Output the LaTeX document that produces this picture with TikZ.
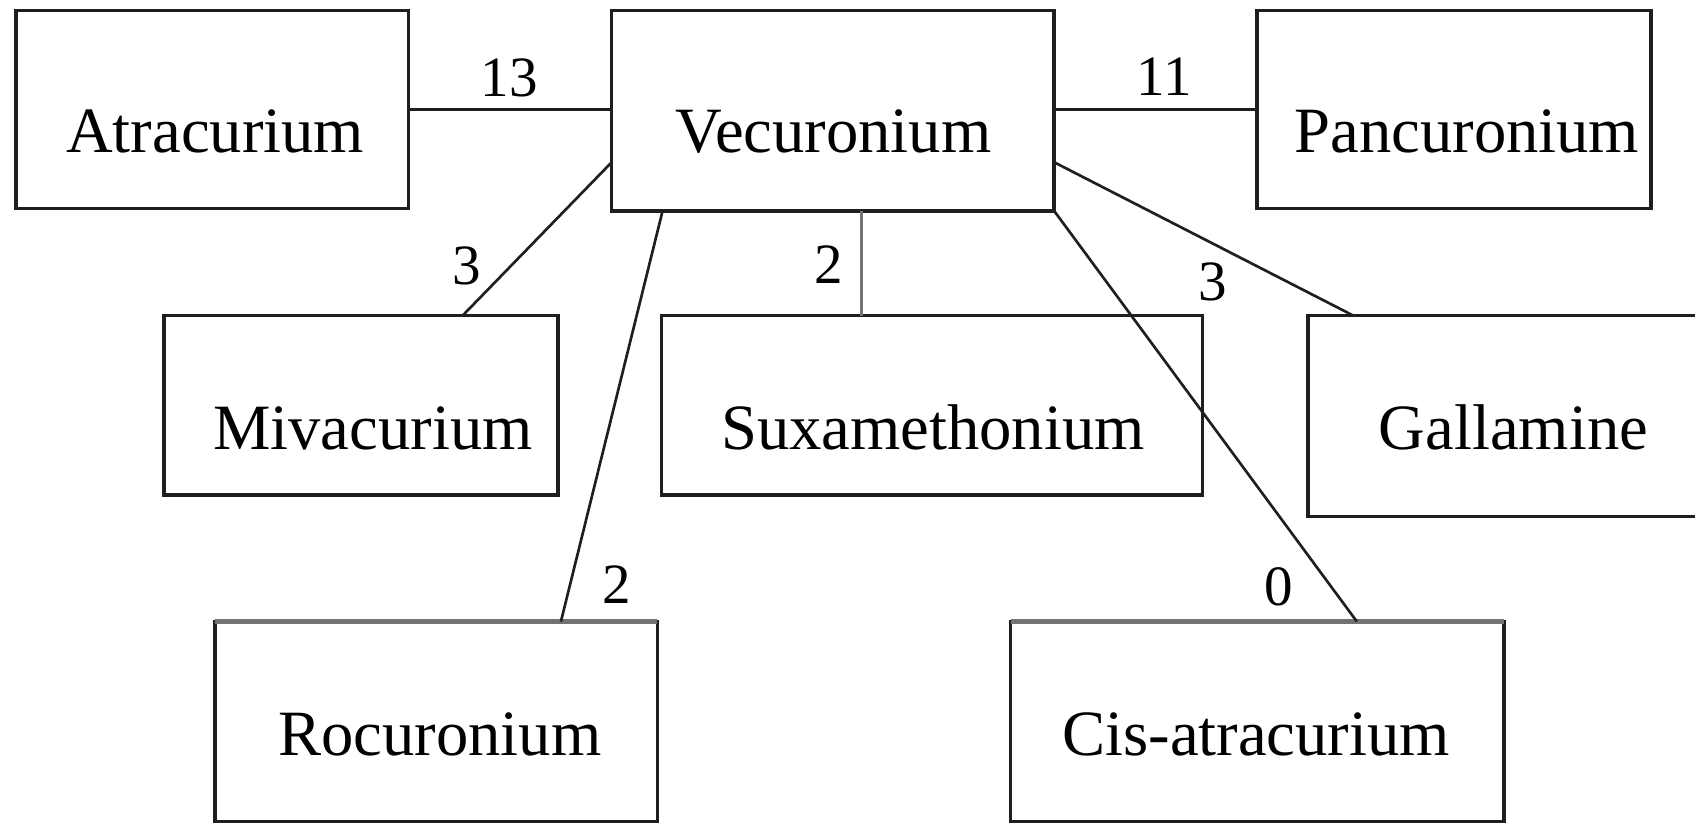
\documentclass[tikz,border=0pt]{standalone}
\usepackage{fontspec}
\setmainfont{Liberation Serif}
\usetikzlibrary{calc}
\begin{document}
\begin{tikzpicture}[x=0.01cm,y=-0.01cm,
  drugbox/.style={draw=black!88,line width=0.9pt,inner sep=0pt,outer sep=0pt},
  drugtext/.style={anchor=base,inner sep=0pt,font=\fontsize{17}{20}\selectfont},
  numlabel/.style={anchor=base,inner sep=0pt,font=\fontsize{15}{18}\selectfont},
  linkline/.style={draw=black!88,line width=0.7pt},
  graylink/.style={draw=black!55,line width=0.8pt},
  graytop/.style={draw=black!55,line width=1.5pt}]
\useasboundingbox (0,0) rectangle (1568,762);
\clip (0,0) rectangle (1568,762);
% boxes
\node[drugbox,minimum width=3.63cm,minimum height=1.83cm] (atr) at (196.5,101.5) {};
\node[drugbox,minimum width=4.09cm,minimum height=1.85cm] (vec) at (770.5,102.5) {};
\node[drugbox,minimum width=3.64cm,minimum height=1.83cm] (pan) at (1345,101.5) {};
\node[drugbox,minimum width=3.64cm,minimum height=1.66cm] (miv) at (334,375) {};
\node[drugbox,minimum width=5.00cm,minimum height=1.66cm] (sux) at (862,375) {};
\node[drugbox,minimum width=3.90cm,minimum height=1.86cm] (gal) at (1405,385) {};
\node[drugbox,minimum width=4.09cm,minimum height=1.85cm] (roc) at (403.5,667.5) {};
\node[drugbox,minimum width=4.56cm,minimum height=1.85cm] (cis) at (1163,667.5) {};
\draw[graytop] (roc.north west) -- (roc.north east);
\draw[graytop] (cis.north west) -- (cis.north east);
% texts
\node[drugtext] (tatr) at (199,141) {Atracurium};
\node[drugtext] (tvec) at (771,141) {Vecuronium};
\node[drugtext] (tpan) at (1357,141) {Pancuronium};
\node[drugtext] (tmiv) at (345,416) {Mivacurium};
\node[drugtext] (tsux) at (863,416) {Suxamethonium};
\node[drugtext] (tgal) at (1400,416) {Gallamine};
\node[drugtext] (troc) at (407,699) {Rocuronium};
\node[drugtext] (tcis) at (1162,699) {Cis-atracurium};
% connectors
\draw[linkline] (atr.east) -- (atr.east -| vec.west);
\draw[linkline] (vec.east |- pan.west) -- (pan.west);
\draw[linkline] ($(vec.north west)!0.757!(vec.south west)$) -- ($(miv.north west)!0.758!(miv.north east)$);
\draw[linkline] ($(vec.south west)!0.115!(vec.south east)$) -- ($(roc.north west)!0.782!(roc.north east)$);
\draw[graylink] ($(vec.south west)!0.565!(vec.south east)$) coordinate (vs) -- (vs |- sux.north);
\draw[linkline] (vec.south east) -- ($(cis.north west)!0.702!(cis.north east)$);
\draw[linkline] ($(vec.north east)!0.757!(vec.south east)$) -- ($(gal.north west)+(42,0)$);
% labels
\node[numlabel] (l13) at (471,89) {13};
\node[numlabel] (l11) at (1077,88) {11};
\node[numlabel] (l3a) at (432,263) {3};
\node[numlabel] (l2a) at (767,262) {2};
\node[numlabel] (l3b) at (1122,278) {3};
\node[numlabel] (l2b) at (571,558) {2};
\node[numlabel] (l0) at (1183,560) {0};
\end{tikzpicture}
\end{document}
